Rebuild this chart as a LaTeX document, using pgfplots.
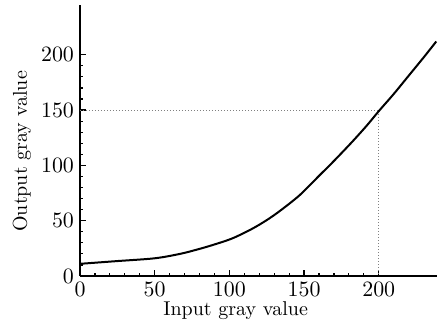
\documentclass[border=0pt]{standalone}
\usepackage{pgfplots}
\pgfplotsset{compat=1.18}
\begin{document}
\begin{tikzpicture}
\begin{axis}[
  scale only axis,
  width=178.5pt, height=135.5pt,
  xmin=0, xmax=239, ymin=0, ymax=245,
  axis lines=left,
  axis line style={-, line width=0.7pt},
  xtick={0,50,100,150,200},
  ytick={0,50,100,150,200},
  minor x tick num=4,
  minor y tick num=4,
  tick align=inside,
  major tick length=3pt,
  minor tick length=1.6pt,
  tick style={black, line width=0.6pt},
  tick label style={font=\fontsize{10.5}{12}\selectfont},
  xticklabel style={yshift=0.5pt},
  yticklabel style={xshift=0.5pt},
  xlabel={Input gray value},
  ylabel={Output gray value},
  every axis x label/.style={at={(rel axis cs:0.436,0)}, anchor=base, yshift=-20pt, font=\fontsize{10}{12}\selectfont},
  every axis y label/.style={at={(rel axis cs:0,0.46)}, xshift=-29pt, rotate=90, anchor=center, font=\fontsize{10}{12}\selectfont},
  clip=false,
]
\coordinate (o) at (rel axis cs:0,0);
\addplot[gray, densely dotted, line width=0.5pt] coordinates {(0,150) (200,150) (200,0)};
\addplot[black, line width=1pt, smooth] coordinates {
(0,11) (25,13.5) (50,16) (67,20) (80,24.5) (90,28.5) (102,34) (115,42.5) (125,50.5) (134,59) (147,73) (160,90.5) (170,104) (182,121) (192,136) (200,149) (210,164.5) (220,181) (230,197.5) (238.5,212)
};
\end{axis}
\pgfresetboundingbox
\path[use as bounding box] (o) ++(-40pt,-25pt) rectangle ++(222.5pt,163pt);
\end{tikzpicture}
\end{document}
